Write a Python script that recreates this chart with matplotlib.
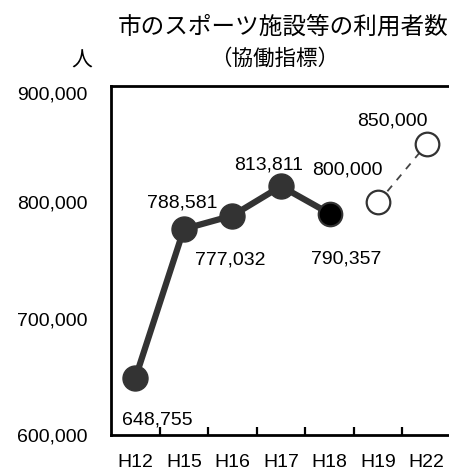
import matplotlib
matplotlib.use("Agg")
import matplotlib.pyplot as plt

plt.rcParams['font.family'] = ['Liberation Sans', 'Noto Sans CJK JP', 'DejaVu Sans']

# Data
categories = ["H12", "H15", "H16", "H17", "H18", "H19", "H22"]
actual_values = [648755, 777032, 788581, 813811, 790357]      # H12..H18 results
target_values = [800000, 850000]                               # H19, H22 targets
y_ticks = [600000, 700000, 800000, 900000]

# label offsets (pixels) from each point
actual_offsets = [(22, -42), (46, -31), (-50, 13), (-12, 21), (17, -45)]
target_offsets = [(-31, 32), (-34, 23)]

fig = plt.figure(figsize=(4.49, 4.71), dpi=100)
W, H = 449, 471
ax = fig.add_axes([111 / W, (H - 435) / H, 340 / W, (435 - 86) / H])

xa = list(range(len(actual_values)))
xt = list(range(len(actual_values), len(actual_values) + len(target_values)))

dark = "#333333"
ax.plot(xa, actual_values, color=dark, lw=4.5, zorder=3, solid_capstyle='round')
ax.plot(xa[:-1], actual_values[:-1], 'o', ms=18, color=dark, mec=dark, zorder=4)
ax.plot(xa[-1:], actual_values[-1:], 'o', ms=17, color="black", mec=dark, mew=1.5, zorder=4)

ax.plot(xt, target_values, color="#444444", lw=1.3, ls=(0, (4, 4)), zorder=2)
ax.plot(xt, target_values, 'o', ms=17, mfc="white", mec=dark, mew=1.6, zorder=4)

def fmt(v):
    return f"{v:,}"

for x, v, off in zip(xa, actual_values, actual_offsets):
    ax.annotate(fmt(v), (x, v), xytext=off, textcoords='offset pixels',
                ha='center', va='center', fontsize=14, zorder=6)
for x, v, off in zip(xt, target_values, target_offsets):
    ax.annotate(fmt(v), (x, v), xytext=off, textcoords='offset pixels',
                ha='center', va='center', fontsize=14, zorder=6)

ax.set_xlim(-0.5, len(categories) - 0.5)
ax.set_ylim(600000, 900000)
ax.set_yticks(y_ticks)
ax.set_yticklabels([fmt(v) for v in y_ticks], fontsize=14)
ax.tick_params(axis='y', length=0, pad=17)
# keep the top label inside the plot height
ax.get_yticklabels()[-1].set_va('top')

# category boundary ticks on the bottom axis
ax.set_xticks([i + 0.5 for i in range(len(categories) - 1)])
ax.set_xticklabels([])
ax.tick_params(axis='x', direction='in', length=6, width=1.6, color='black')
for i, c in enumerate(categories):
    ax.text(i, -0.08, c, transform=ax.get_xaxis_transform(), ha='center', va='center',
            fontsize=14)

for s in ['left', 'top', 'bottom']:
    ax.spines[s].set_linewidth(2)
    ax.spines[s].set_color('black')
ax.spines['right'].set_visible(False)

fig.text(283 / W, 1 - 27 / H, "市のスポーツ施設等の利用者数", ha='center', va='center',
         fontsize=17, family=['Noto Sans CJK JP'])
fig.text(275 / W, 1 - 59 / H, "（協働指標）", ha='center', va='center',
         fontsize=15.5, family=['Noto Sans CJK JP'])
fig.text(82 / W, 1 - 61 / H, "人", ha='center', va='center',
         fontsize=15, family=['Noto Sans CJK JP'])

fig.savefig("out.png", dpi=100)
